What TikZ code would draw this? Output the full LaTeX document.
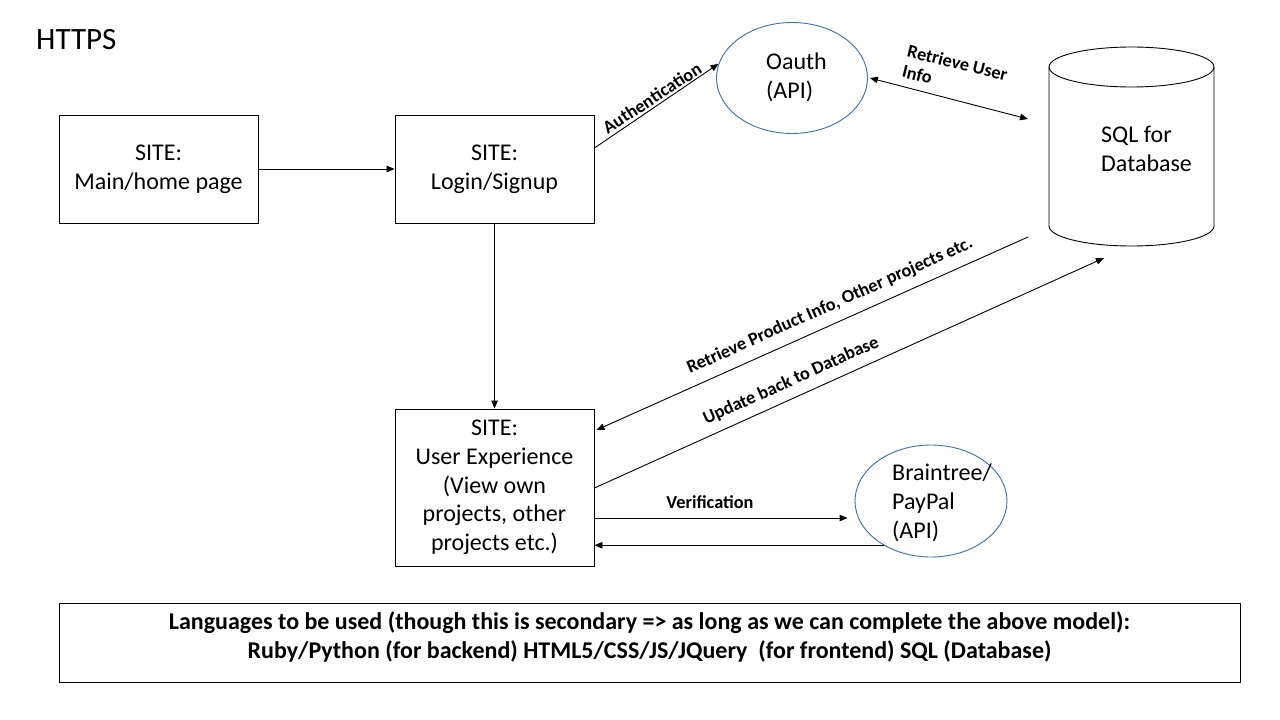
\documentclass[tikz,border=0pt]{standalone}
\usepackage{fontspec}
\setmainfont{Carlito}
\usetikzlibrary{arrows.meta,shapes.geometric,calc}
\definecolor{ellblue}{HTML}{41719C}
\tikzset{
  box/.style={draw=black, line width=0.9pt, rectangle, minimum width=199pt, align=center,
    font=\fontsize{24}{28.7}\selectfont, inner sep=0pt},
  api/.style={draw=ellblue, line width=0.9pt, ellipse, align=left, inner sep=0pt,
    font=\fontsize{24}{29}\selectfont},
  arr/.style={line width=0.9pt, -{Triangle[length=8pt,width=6.5pt]}},
  darr/.style={line width=0.9pt, {Triangle[length=8pt,width=6.5pt]}-{Triangle[length=8pt,width=6.5pt]}},
  lbl/.style={font=\fontsize{18.3}{21}\selectfont\bfseries, inner sep=0pt, align=left},
  txt/.style={inner sep=0pt, align=left, font=\fontsize{24}{29}\selectfont}
}
\begin{document}
\begin{tikzpicture}[x=1pt,y=-1pt]
\useasboundingbox[fill=white] (0,0) rectangle (1280,720);

\node[anchor=west, inner sep=0pt, font=\fontsize{31}{34}\selectfont] (https) at (36,40) {HTTPS};

\node[box, minimum height=108pt] (main) at (158.5,169) {SITE:\\Main/home page};
\node[box, minimum height=108pt] (login) at (494.5,169) {SITE:\\Login/Signup};
\node[box, minimum height=157pt] (ux) at (494.5,487.5) {SITE:\\User Experience\\(View own\\projects, other\\projects etc.)};

\node[api, minimum width=151pt, minimum height=111pt] (oauth) at (792,78) {};
\node[txt, anchor=west] (oauthtxt) at (766,77) {Oauth\\(API)};
\node[api, minimum width=152pt, minimum height=112pt] (bt) at (931,501) {};
\node[txt, anchor=west] (bttxt) at (892,503) {Braintree/\\PayPal\\(API)};

% database cylinder
\draw[line width=0.9pt] (1131.5,67) ellipse [x radius=82.5, y radius=20];
\draw[line width=0.9pt] (1049,67) -- (1049,226) arc[start angle=180, end angle=0, x radius=82.5, y radius=20] -- (1214,67);
\node[txt, anchor=west] (db) at (1101,149) {SQL for\\Database};
\coordinate (dbUser) at (1028,119);
\coordinate (dbOut) at (1028,237);
\coordinate (dbIn) at (1104,258);

% connectors
\draw[arr] (main.east) -- (login.west);
\draw[arr] ([yshift=21pt]login.east) -- (oauth.169);
\draw[darr] ([xshift=2pt]oauth.east) -- (dbUser);
\draw[arr] (login.south) -- (ux.north);
\draw[arr] (dbOut) -- ([xshift=2pt,yshift=57.5pt]ux.east);
\draw[arr] ([yshift=-0.5pt]ux.east) -- (dbIn);
\draw[arr, shorten >=7pt] ([yshift=-30.5pt]ux.east) -- ([yshift=-30.5pt]ux.east -| bt.west);
\draw[arr] (bt.223) -- (bt.223 -| ux.east);

% labels
\node[lbl, rotate=33] (lauth) at (652,98) {Authentication};
\node[lbl, rotate=-14] (luser) at (955,73) {Retrieve User\\Info};
\node[lbl, rotate=24.1] (lprod) at (830,306) {Retrieve Product Info, Other projects etc.};
\node[lbl, rotate=24.3] (lupd) at (791,381) {Update back to Database};
\node[lbl] (lver) at (710,502) {Verification};

% languages box
\node[draw=black, line width=0.9pt, minimum width=1181pt, minimum height=79pt, inner sep=0pt] (langs) at (649.5,642.5) {};
\node[inner sep=0pt, align=center, font=\fontsize{24}{29}\selectfont\bfseries] (langstxt) at (649.5,637)
  {Languages to be used (though this is secondary => as long as we can complete the above model):\\
   Ruby/Python (for backend) HTML5/CSS/JS/JQuery~ (for frontend) SQL (Database)};
\end{tikzpicture}
\end{document}
